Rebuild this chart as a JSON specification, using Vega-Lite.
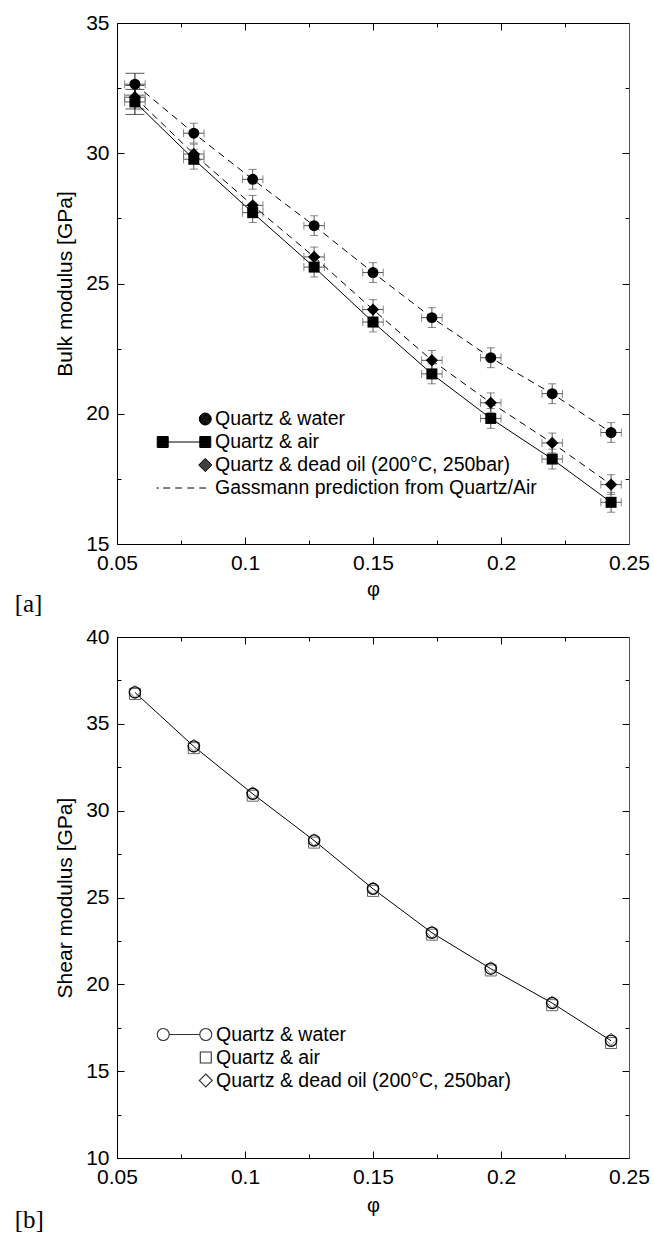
{
  "$schema": "https://vega.github.io/schema/vega-lite/v6.json",
  "background": "white",
  "padding": {"left": 14, "top": 12, "right": 5, "bottom": 2},
  "config": {"view": {"stroke": null}, "font": "Liberation Sans"},
  "datasets": {
    "bulk": [
      {"phi": 0.057, "fluid": "water", "K": 32.65, "err": 0.42, "xerr": 0.004},
      {"phi": 0.080, "fluid": "water", "K": 30.77, "err": 0.38, "xerr": 0.004},
      {"phi": 0.103, "fluid": "water", "K": 29.0, "err": 0.38, "xerr": 0.004},
      {"phi": 0.127, "fluid": "water", "K": 27.22, "err": 0.38, "xerr": 0.004},
      {"phi": 0.150, "fluid": "water", "K": 25.42, "err": 0.38, "xerr": 0.004},
      {"phi": 0.173, "fluid": "water", "K": 23.69, "err": 0.38, "xerr": 0.004},
      {"phi": 0.196, "fluid": "water", "K": 22.15, "err": 0.38, "xerr": 0.004},
      {"phi": 0.220, "fluid": "water", "K": 20.77, "err": 0.38, "xerr": 0.004},
      {"phi": 0.243, "fluid": "water", "K": 19.28, "err": 0.38, "xerr": 0.004},
      {"phi": 0.057, "fluid": "air", "K": 31.97, "err": 0.48, "xerr": 0.004},
      {"phi": 0.080, "fluid": "air", "K": 29.77, "err": 0.38, "xerr": 0.004},
      {"phi": 0.103, "fluid": "air", "K": 27.72, "err": 0.38, "xerr": 0.004},
      {"phi": 0.127, "fluid": "air", "K": 25.63, "err": 0.38, "xerr": 0.004},
      {"phi": 0.150, "fluid": "air", "K": 23.52, "err": 0.38, "xerr": 0.004},
      {"phi": 0.173, "fluid": "air", "K": 21.53, "err": 0.38, "xerr": 0.004},
      {"phi": 0.196, "fluid": "air", "K": 19.82, "err": 0.38, "xerr": 0.004},
      {"phi": 0.220, "fluid": "air", "K": 18.26, "err": 0.38, "xerr": 0.004},
      {"phi": 0.243, "fluid": "air", "K": 16.6, "err": 0.38, "xerr": 0.004},
      {"phi": 0.057, "fluid": "oil", "K": 32.15, "err": 0.45, "xerr": 0.004},
      {"phi": 0.080, "fluid": "oil", "K": 29.97, "err": 0.38, "xerr": 0.004},
      {"phi": 0.103, "fluid": "oil", "K": 28.0, "err": 0.38, "xerr": 0.004},
      {"phi": 0.127, "fluid": "oil", "K": 26.02, "err": 0.38, "xerr": 0.004},
      {"phi": 0.150, "fluid": "oil", "K": 24.0, "err": 0.38, "xerr": 0.004},
      {"phi": 0.173, "fluid": "oil", "K": 22.05, "err": 0.38, "xerr": 0.004},
      {"phi": 0.196, "fluid": "oil", "K": 20.42, "err": 0.38, "xerr": 0.004},
      {"phi": 0.220, "fluid": "oil", "K": 18.88, "err": 0.38, "xerr": 0.004},
      {"phi": 0.243, "fluid": "oil", "K": 17.28, "err": 0.38, "xerr": 0.004}
    ],
    "shear": [
      {"phi": 0.057, "fluid": "water", "G": 36.81},
      {"phi": 0.080, "fluid": "water", "G": 33.7},
      {"phi": 0.103, "fluid": "water", "G": 30.97},
      {"phi": 0.127, "fluid": "water", "G": 28.28},
      {"phi": 0.150, "fluid": "water", "G": 25.5},
      {"phi": 0.173, "fluid": "water", "G": 22.97},
      {"phi": 0.196, "fluid": "water", "G": 20.9},
      {"phi": 0.220, "fluid": "water", "G": 18.92},
      {"phi": 0.243, "fluid": "water", "G": 16.75},
      {"phi": 0.057, "fluid": "air", "G": 36.72},
      {"phi": 0.080, "fluid": "air", "G": 33.6},
      {"phi": 0.103, "fluid": "air", "G": 30.86},
      {"phi": 0.127, "fluid": "air", "G": 28.16},
      {"phi": 0.150, "fluid": "air", "G": 25.38},
      {"phi": 0.173, "fluid": "air", "G": 22.86},
      {"phi": 0.196, "fluid": "air", "G": 20.8},
      {"phi": 0.220, "fluid": "air", "G": 18.8},
      {"phi": 0.243, "fluid": "air", "G": 16.62},
      {"phi": 0.057, "fluid": "oil", "G": 36.86},
      {"phi": 0.080, "fluid": "oil", "G": 33.76},
      {"phi": 0.103, "fluid": "oil", "G": 31.02},
      {"phi": 0.127, "fluid": "oil", "G": 28.32},
      {"phi": 0.150, "fluid": "oil", "G": 25.52},
      {"phi": 0.173, "fluid": "oil", "G": 23.02},
      {"phi": 0.196, "fluid": "oil", "G": 20.96},
      {"phi": 0.220, "fluid": "oil", "G": 18.98},
      {"phi": 0.243, "fluid": "oil", "G": 16.84}
    ]
  },
  "spacing": 9,
  "resolve": {"scale": {"shape": "independent"}, "legend": {"shape": "independent"}},
  "vconcat": [
    {
      "width": 512,
      "height": 521,
      "title": {"text": "[a]", "orient": "bottom", "anchor": "start", "font": "Liberation Serif", "fontSize": 25, "fontWeight": "normal", "color": "black", "dx": -40, "offset": -7},
      "data": {"name": "bulk"},
      "resolve": {"axis": {"x": "independent", "y": "independent"}},
      "layer": [
        {
          "transform": [{"filter": "datum.fluid === 'air'"}],
          "mark": {"type": "line", "color": "black", "strokeWidth": 1},
          "encoding": {
            "x": {"field": "phi", "type": "quantitative", "scale": {"domain": [0.05, 0.25], "nice": false, "zero": false},
              "axis": {"orient": "bottom", "values": [0.05, 0.075, 0.1, 0.125, 0.15, 0.175, 0.2, 0.225, 0.25],
                "labelExpr": "abs(datum.value*20-round(datum.value*20))<0.001 ? format(datum.value,'~g') : ''",
                "tickSize": {"condition": {"test": "abs(datum.value*20-round(datum.value*20))<0.001", "value": -7}, "value": -4},
                "tickColor": "black", "domainColor": "black", "grid": false, "labelFontSize": 21, "labelColor": "black", "labelFont": "Liberation Sans", "labelPadding": 15, "labelFlush": false, "labelOverlap": false,
                "title": "φ", "titleFont": "Liberation Sans", "titleFontSize": 20, "titleFontWeight": "normal", "titleColor": "black", "titlePadding": 3}},
            "y": {"field": "K", "type": "quantitative", "scale": {"domain": [15, 35], "nice": false, "zero": false},
              "axis": {"orient": "left", "values": [15, 17.5, 20, 22.5, 25, 27.5, 30, 32.5, 35],
                "labelExpr": "datum.value % 5 === 0 ? format(datum.value,'d') : ''",
                "tickSize": {"condition": {"test": "datum.value % 5 === 0", "value": -7}, "value": -4},
                "tickColor": "black", "domainColor": "black", "grid": false, "labelFontSize": 21, "labelColor": "black", "labelFont": "Liberation Sans", "labelPadding": 15, "labelFlush": false, "labelOverlap": false,
                "title": "Bulk modulus [GPa]", "titleFont": "Liberation Sans", "titleFontSize": 21, "titleFontWeight": "normal", "titleColor": "black", "titlePadding": 10}}
          }
        },
        {
          "transform": [{"filter": "datum.fluid === 'water'"}],
          "mark": {"type": "line", "color": "black", "strokeWidth": 1, "strokeDash": [7, 5]},
          "encoding": {
            "x": {"field": "phi", "type": "quantitative",
              "axis": {"orient": "top", "values": [0.05, 0.075, 0.1, 0.125, 0.15, 0.175, 0.2, 0.225, 0.25], "labels": false, "title": null,
                "tickSize": {"condition": {"test": "abs(datum.value*20-round(datum.value*20))<0.001", "value": -7}, "value": -4},
                "tickColor": "black", "domainColor": "black", "grid": false}},
            "y": {"field": "K", "type": "quantitative",
              "axis": {"orient": "right", "values": [15, 17.5, 20, 22.5, 25, 27.5, 30, 32.5, 35], "labels": false, "title": null,
                "tickSize": {"condition": {"test": "datum.value % 5 === 0", "value": -7}, "value": -4},
                "tickColor": "black", "domainColor": "#555", "grid": false}}
          }
        },
        {
          "transform": [{"filter": "datum.fluid === 'oil'"}],
          "mark": {"type": "line", "color": "black", "strokeWidth": 1, "strokeDash": [7, 5]},
          "encoding": {
            "x": {"field": "phi", "type": "quantitative", "axis": null},
            "y": {"field": "K", "type": "quantitative", "axis": null}
          }
        },
        {
          "transform": [{"filter": "datum.phi > 0.06"}],
          "mark": {"type": "errorbar", "ticks": {"size": 8}, "color": "#555", "thickness": 1},
          "encoding": {
            "x": {"field": "phi", "type": "quantitative", "axis": null},
            "y": {"field": "K", "type": "quantitative", "axis": null},
            "yError": {"field": "err"}
          }
        },
        {
          "transform": [{"filter": "datum.phi < 0.06"}],
          "mark": {"type": "errorbar", "ticks": {"size": 19}, "color": "#111", "thickness": 1},
          "encoding": {
            "x": {"field": "phi", "type": "quantitative", "axis": null},
            "y": {"field": "K", "type": "quantitative", "axis": null},
            "yError": {"field": "err"}
          }
        },
        {
          "mark": {"type": "errorbar", "ticks": {"size": 8}, "color": "#555", "thickness": 1},
          "encoding": {
            "x": {"field": "phi", "type": "quantitative", "axis": null},
            "xError": {"field": "xerr"},
            "y": {"field": "K", "type": "quantitative", "axis": null}
          }
        },
        {
          "transform": [{"filter": "datum.fluid === 'water'"}],
          "mark": {"type": "point", "shape": "circle", "filled": true, "color": "black", "size": 120, "opacity": 1},
          "encoding": {
            "x": {"field": "phi", "type": "quantitative", "axis": null},
            "y": {"field": "K", "type": "quantitative", "axis": null}
          }
        },
        {
          "transform": [{"filter": "datum.fluid === 'air'"}],
          "mark": {"type": "point", "shape": "square", "filled": true, "color": "black", "size": 121, "opacity": 1},
          "encoding": {
            "x": {"field": "phi", "type": "quantitative", "axis": null},
            "y": {"field": "K", "type": "quantitative", "axis": null}
          }
        },
        {
          "transform": [{"filter": "datum.fluid === 'oil'"}],
          "mark": {"type": "point", "shape": "diamond", "filled": true, "color": "black", "size": 150, "opacity": 1},
          "encoding": {
            "x": {"field": "phi", "type": "quantitative", "axis": null},
            "y": {"field": "K", "type": "quantitative", "axis": null}
          }
        },
        {
          "transform": [{"filter": "false"}],
          "mark": {"type": "point", "filled": false, "color": "black", "strokeWidth": 1},
          "encoding": {
            "shape": {"field": "bulkSeries", "type": "nominal",
              "scale": {"domain": ["Quartz & water", "Quartz & air", "Quartz & dead oil (200°C, 250bar)", "Gassmann prediction from Quartz/Air"],
                "range": [
                  "M0.974,0A0.214,0.214 0 1,1 0.546,0A0.214,0.214 0 1,1 0.974,0ZM0.957,0A0.197,0.197 0 1,1 0.563,0A0.197,0.197 0 1,1 0.957,0ZM0.94,0A0.18,0.18 0 1,1 0.58,0A0.18,0.18 0 1,1 0.94,0ZM0.922,0A0.162,0.162 0 1,1 0.598,0A0.162,0.162 0 1,1 0.922,0ZM0.905,0A0.145,0.145 0 1,1 0.615,0A0.145,0.145 0 1,1 0.905,0ZM0.887,0A0.127,0.127 0 1,1 0.633,0A0.127,0.127 0 1,1 0.887,0ZM0.87,0A0.11,0.11 0 1,1 0.65,0A0.11,0.11 0 1,1 0.87,0ZM0.852,0A0.092,0.092 0 1,1 0.668,0A0.092,0.092 0 1,1 0.852,0ZM0.835,0A0.075,0.075 0 1,1 0.685,0A0.075,0.075 0 1,1 0.835,0ZM0.817,0A0.057,0.057 0 1,1 0.703,0A0.057,0.057 0 1,1 0.817,0ZM0.8,0A0.04,0.04 0 1,1 0.72,0A0.04,0.04 0 1,1 0.8,0ZM0.782,0A0.022,0.022 0 1,1 0.738,0A0.022,0.022 0 1,1 0.782,0ZM0.74,0H0.78",
                  "M-0.76,0H0.76M-0.956,-0.196H-0.564V0.196H-0.956ZM-0.956,-0.16H-0.564M-0.956,-0.125H-0.564M-0.956,-0.089H-0.564M-0.956,-0.053H-0.564M-0.956,-0.018H-0.564M-0.956,0.018H-0.564M-0.956,0.053H-0.564M-0.956,0.089H-0.564M-0.956,0.125H-0.564M-0.956,0.16H-0.564M0.564,-0.196H0.956V0.196H0.564ZM0.564,-0.16H0.956M0.564,-0.125H0.956M0.564,-0.089H0.956M0.564,-0.053H0.956M0.564,-0.018H0.956M0.564,0.018H0.956M0.564,0.053H0.956M0.564,0.089H0.956M0.564,0.125H0.956M0.564,0.16H0.956",
                  "M0.76,-0.232L0.992,0L0.76,0.232L0.528,0ZM0.742,-0.214H0.778M0.706,-0.178H0.814M0.671,-0.143H0.849M0.635,-0.107H0.885M0.599,-0.071H0.921M0.564,-0.036H0.956M0.528,0H0.992M0.564,0.036H0.956M0.599,0.071H0.921M0.635,0.107H0.885M0.671,0.143H0.849M0.706,0.178H0.814M0.742,0.214H0.778",
                  "M-0.98,0H-0.9M-0.74,0H-0.5M-0.31,0H-0.07M0.12,0H0.36M0.55,0H0.79"
                ]},
              "legend": {"orient": "none", "legendX": 38.5, "legendY": 384.5, "title": null, "symbolSize": 3136, "symbolStrokeWidth": 1, "symbolOpacity": 1,
                "symbolStrokeColor": "black", "symbolFillColor": "black",
                "labelFont": "Liberation Sans", "labelFontSize": 19.5, "labelColor": "black", "labelOffset": 2.5, "labelLimit": 400,
                "clipHeight": 23, "rowPadding": 0, "padding": 0, "symbolOffset": 0}
            }
          }
        }
      ]
    },
    {
      "width": 512,
      "height": 521,
      "title": {"text": "[b]", "orient": "bottom", "anchor": "start", "font": "Liberation Serif", "fontSize": 25, "fontWeight": "normal", "color": "black", "dx": -40, "offset": -7},
      "data": {"name": "shear"},
      "resolve": {"axis": {"x": "independent", "y": "independent"}},
      "layer": [
        {
          "transform": [{"filter": "datum.fluid === 'water'"}],
          "mark": {"type": "line", "color": "black", "strokeWidth": 1},
          "encoding": {
            "x": {"field": "phi", "type": "quantitative", "scale": {"domain": [0.05, 0.25], "nice": false, "zero": false},
              "axis": {"orient": "bottom", "values": [0.05, 0.075, 0.1, 0.125, 0.15, 0.175, 0.2, 0.225, 0.25],
                "labelExpr": "abs(datum.value*20-round(datum.value*20))<0.001 ? format(datum.value,'~g') : ''",
                "tickSize": {"condition": {"test": "abs(datum.value*20-round(datum.value*20))<0.001", "value": -7}, "value": -4},
                "tickColor": "black", "domainColor": "black", "grid": false, "labelFontSize": 21, "labelColor": "black", "labelFont": "Liberation Sans", "labelPadding": 15, "labelFlush": false, "labelOverlap": false,
                "title": "φ", "titleFont": "Liberation Sans", "titleFontSize": 20, "titleFontWeight": "normal", "titleColor": "black", "titlePadding": 5}},
            "y": {"field": "G", "type": "quantitative", "scale": {"domain": [10, 40], "nice": false, "zero": false},
              "axis": {"orient": "left", "values": [10, 12.5, 15, 17.5, 20, 22.5, 25, 27.5, 30, 32.5, 35, 37.5, 40],
                "labelExpr": "datum.value % 5 === 0 ? format(datum.value,'d') : ''",
                "tickSize": {"condition": {"test": "datum.value % 5 === 0", "value": -7}, "value": -4},
                "tickColor": "black", "domainColor": "black", "grid": false, "labelFontSize": 21, "labelColor": "black", "labelFont": "Liberation Sans", "labelPadding": 15, "labelFlush": false, "labelOverlap": false,
                "title": "Shear modulus [GPa]", "titleFont": "Liberation Sans", "titleFontSize": 21, "titleFontWeight": "normal", "titleColor": "black", "titlePadding": 10}}
          }
        },
        {
          "transform": [{"filter": "datum.fluid === 'air'"}],
          "mark": {"type": "point", "shape": "square", "filled": false, "color": "#666", "strokeWidth": 1, "size": 121, "opacity": 1},
          "encoding": {
            "x": {"field": "phi", "type": "quantitative",
              "axis": {"orient": "top", "values": [0.05, 0.075, 0.1, 0.125, 0.15, 0.175, 0.2, 0.225, 0.25], "labels": false, "title": null,
                "tickSize": {"condition": {"test": "abs(datum.value*20-round(datum.value*20))<0.001", "value": -7}, "value": -4},
                "tickColor": "black", "domainColor": "black", "grid": false}},
            "y": {"field": "G", "type": "quantitative",
              "axis": {"orient": "right", "values": [10, 12.5, 15, 17.5, 20, 22.5, 25, 27.5, 30, 32.5, 35, 37.5, 40], "labels": false, "title": null,
                "tickSize": {"condition": {"test": "datum.value % 5 === 0", "value": -7}, "value": -4},
                "tickColor": "black", "domainColor": "#555", "grid": false}}
          }
        },
        {
          "transform": [{"filter": "datum.fluid === 'oil'"}],
          "mark": {"type": "point", "shape": "diamond", "filled": false, "color": "#777", "strokeWidth": 1, "size": 150, "opacity": 1},
          "encoding": {
            "x": {"field": "phi", "type": "quantitative", "axis": null},
            "y": {"field": "G", "type": "quantitative", "axis": null}
          }
        },
        {
          "transform": [{"filter": "datum.fluid === 'water'"}],
          "mark": {"type": "point", "shape": "circle", "filled": false, "color": "black", "strokeWidth": 1.3, "size": 125, "opacity": 1},
          "encoding": {
            "x": {"field": "phi", "type": "quantitative", "axis": null},
            "y": {"field": "G", "type": "quantitative", "axis": null}
          }
        },
        {
          "transform": [{"filter": "false"}],
          "mark": {"type": "point", "filled": false, "color": "#333", "strokeWidth": 1.1},
          "encoding": {
            "shape": {"field": "shearSeries", "type": "nominal",
              "scale": {"domain": ["Quartz & water", "Quartz & air", "Quartz & dead oil (200°C, 250bar)"],
                "range": [
                  "M-0.546,0H0.546M-0.546,0A0.214,0.214 0 1,1 -0.974,0A0.214,0.214 0 1,1 -0.546,0ZM0.974,0A0.214,0.214 0 1,1 0.546,0A0.214,0.214 0 1,1 0.974,0Z",
                  "M0.564,-0.196H0.956V0.196H0.564Z",
                  "M0.76,-0.232L0.992,0L0.76,0.232L0.528,0Z"
                ]},
              "legend": {"orient": "none", "legendX": 38.5, "legendY": 386, "title": null, "symbolSize": 3136, "symbolStrokeWidth": 1.1, "symbolOpacity": 1,
                "symbolFillColor": "transparent", "symbolStrokeColor": "#333",
                "labelFont": "Liberation Sans", "labelFontSize": 19.5, "labelColor": "black", "labelOffset": 2.5, "labelLimit": 400,
                "clipHeight": 23, "rowPadding": 0, "padding": 0, "symbolOffset": 0}
            }
          }
        }
      ]
    }
  ]
}
